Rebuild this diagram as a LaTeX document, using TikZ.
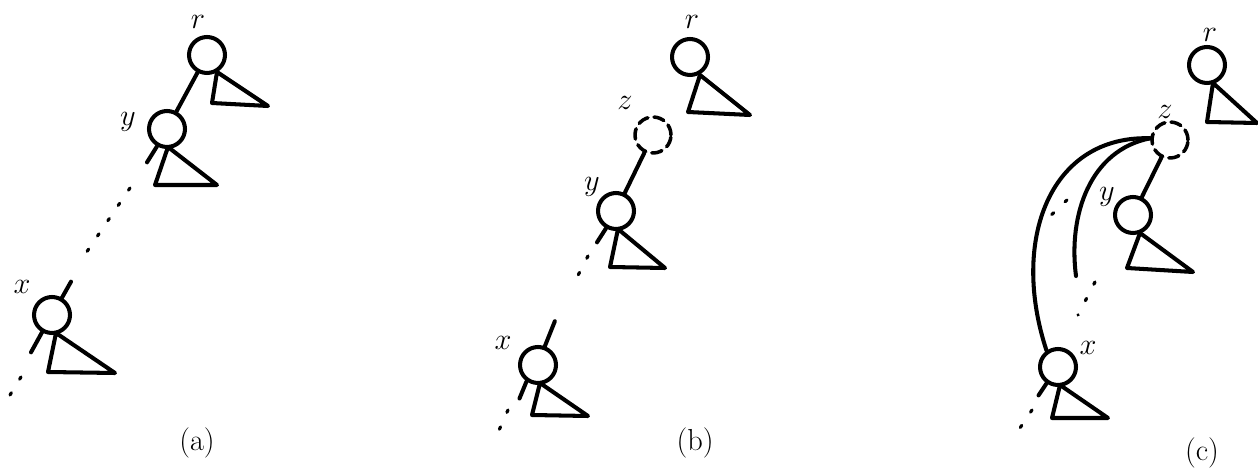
\documentclass[tikz,border=0pt]{standalone}
\begin{document}
\begin{tikzpicture}[
  x=0.02cm, y=-0.02cm,
  line width=2.3pt, line cap=round, line join=round,
  vert/.style={circle, draw, inner sep=0pt, minimum size=0.72cm},
  ghost/.style={vert, line width=2pt, dash pattern=on 6pt off 3.5pt},
  trail/.style={draw, line width=1.8pt, dash pattern=on 1.5pt off 9pt},
  lbl/.style={font=\LARGE, inner sep=0pt}
]
  \useasboundingbox (0,0) rectangle (1258,469);

  % (a)
  \node[vert] (ra) at (207,55) {};
  \node[lbl] (ra-l) at (198,22) {$r$};
  \draw (217,72) -- (212,103) -- (268,106) -- cycle;
  \node[vert] (ya) at (167,129) {};
  \node[lbl] (ya-l) at (128,122) {$y$};
  \draw (ra) -- (ya);
  \draw (ya.240) -- ++(-10,16);
  \draw (168,147) -- (155,185) -- (217,185) -- cycle;
  \draw[trail] (130,188) -- (86,253);
  \node[vert] (xa) at (52,315) {};
  \node[lbl] (xa-l) at (22,287) {$x$};
  \draw (xa.60) -- ++(9,-16);
  \draw (xa.240) -- ++(-11,20);
  \draw (56,333) -- (48,372) -- (115,373) -- cycle;
  \draw[trail] (21,377) -- (10,395);
  \node[lbl] (cap-a) at (197,443) {(a)};

  % (b)
  \node[vert] (rb) at (690,57) {};
  \node[lbl] (rb-l) at (692,22) {$r$};
  \draw (700,75) -- (688,112) -- (750,115) -- cycle;
  \node[ghost] (zb) at (653,135) {};
  \node[lbl] (zb-l) at (625,103) {$z$};
  \node[vert] (yb) at (616,211) {};
  \node[lbl] (yb-l) at (592,187) {$y$};
  \draw (zb) -- (yb);
  \draw (yb.240) -- ++(-9,14);
  \draw (618,229) -- (610,267) -- (665,268) -- cycle;
  \draw[trail] (588,256) -- (572,287);
  \node[vert] (xb) at (538,365) {};
  \node[lbl] (xb-l) at (503,343) {$x$};
  \draw (xb.70) -- ++(10,-25);
  \draw (xb.235) -- ++(-7,17);
  \draw (540,383) -- (532,415) -- (588,416) -- cycle;
  \draw[trail] (508,410) -- (496,437);
  \node[lbl] (cap-b) at (695,443) {(b)};

  % (c)
  \node[vert] (rc) at (1207,65) {};
  \node[lbl] (rc-l) at (1210,35) {$r$};
  \draw (1213,83) -- (1207,122) -- (1257,123) -- cycle;
  \node[ghost] (zc) at (1170,140) {};
  \node[lbl] (zc-l) at (1165,112) {$z$};
  \node[vert] (yc) at (1133,215) {};
  \node[lbl] (yc-l) at (1107,197) {$y$};
  \draw (zc) -- (yc);
  \draw (1140,233) -- (1127,268) -- (1193,272) -- cycle;
  \draw[trail] (1067,200) -- (1043,223);
  \draw[trail] (1095,282) -- (1078,315);
  \node[vert] (xc) at (1058,367) {};
  \node[lbl] (xc-l) at (1088,348) {$x$};
  \draw (xc.235) -- ++(-8,12);
  \draw (1060,385) -- (1052,418) -- (1108,418) -- cycle;
  \draw[trail] (1032,410) -- (1014,437);
  \coordinate (tip) at (1076,276);
  \draw (zc.175) .. controls (1050,135) and (1010,240) .. (xc.125);
  \draw (zc.175) .. controls (1090,150) and (1068,215) .. (tip);
  \node[lbl] (cap-c) at (1202,453) {(c)};
\end{tikzpicture}
\end{document}
